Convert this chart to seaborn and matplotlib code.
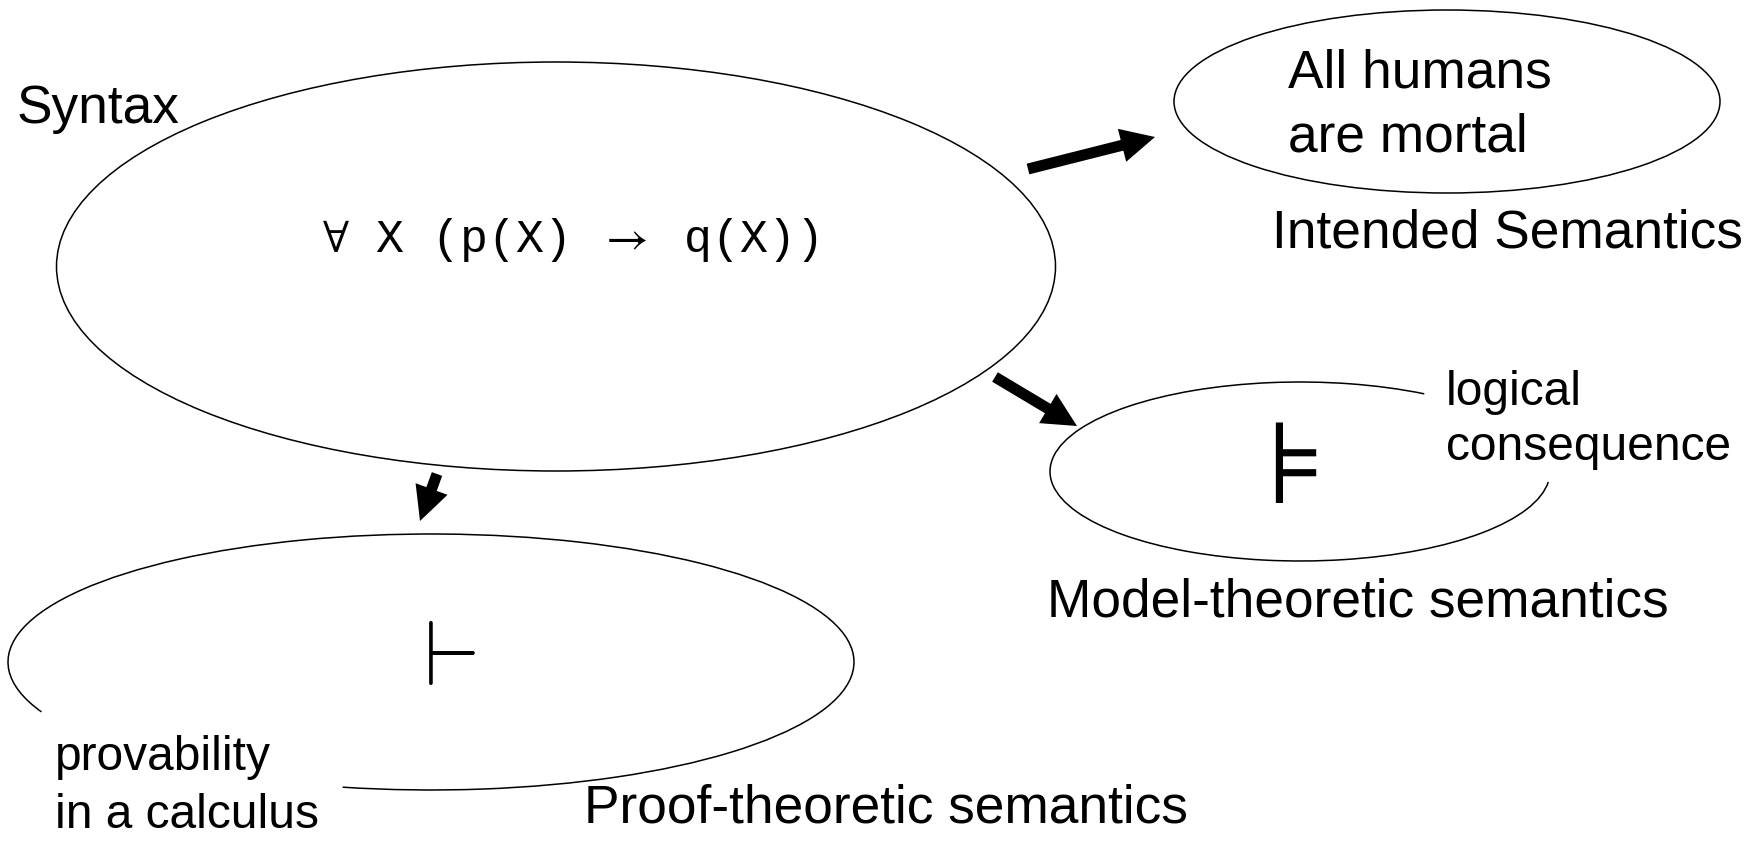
import matplotlib
matplotlib.use("Agg")
import matplotlib.pyplot as plt
from matplotlib.patches import Ellipse, Arc
import seaborn as sns

# Labels of the diagram

syntax_label = "Syntax"
formula = r"$\forall$ X (p(X) $\rightarrow$ q(X))"
intended_lines = ["All humans", "are mortal"]
intended_label = "Intended Semantics"
model_symbol = r"$\models$"
model_note = ["logical", "consequence"]
model_label = "Model-theoretic semantics"
proof_symbol = r"$\vdash$"
proof_note = ["provability", "in a calculus"]
proof_label = "Proof-theoretic semantics"

# Style

sns.set_style("white")
plt.rcParams["font.family"] = ["Liberation Sans", "DejaVu Sans"]
plt.rcParams["text.color"] = "black"

W, H = 1758, 845
big = 38.3
small = 34.5

fig = plt.figure(figsize=(W / 100, H / 100), dpi=100)
ax = fig.add_axes([0, 0, 1, 1])
ax.set_xlim(0, W)
ax.set_ylim(H, 0)
ax.axis("off")

line = dict(fill=False, ec="black", lw=1.1)

# Ellipses (pixel layout)

ax.add_patch(Ellipse((556, 267.5), 999, 409, **line))
ax.add_patch(Ellipse((1447, 102.5), 546, 183, **line))
ax.add_patch(Arc((1300, 472.5), 500, 179, theta1=2.4, theta2=328, **line))
ax.add_patch(Arc((431, 663), 846, 256, theta1=172.7, theta2=125.2, **line))

# Block arrows

arrows = [
    ((1028, 170), (1155, 138)),
    ((995, 378), (1077, 427)),
    ((437, 475), (420, 522)),
]
for (x0, y0), (x1, y1) in arrows:
    ax.arrow(
        x0, y0, x1 - x0, y1 - y0,
        width=11, head_width=34, head_length=34,
        length_includes_head=True, fc="black", ec="black", lw=0
    )

# Texts

ax.text(17, 123, syntax_label, fontsize=big, va="baseline")
ax.text(322, 252, formula, fontsize=33.5, va="baseline",
        family=["Liberation Mono", "DejaVu Sans Mono"],
        math_fontfamily="stix")

for txt, y in zip(intended_lines, [87, 152]):
    ax.text(1288, y, txt, fontsize=big, va="baseline")
ax.text(1272, 248, intended_label, fontsize=big, va="baseline")

ax.text(1280, 473.5, model_symbol, fontsize=83, ha="center", va="center",
        math_fontfamily="dejavusans")
for txt, y in zip(model_note, [405, 460]):
    ax.text(1446, y, txt, fontsize=small, va="baseline")
ax.text(1047, 617, model_label, fontsize=big, va="baseline")

ax.text(441.6, 661, proof_symbol, fontsize=66, ha="center", va="center",
        math_fontfamily="cm")
for txt, y in zip(proof_note, [770, 828]):
    ax.text(55, y, txt, fontsize=small, va="baseline")
ax.text(584, 823, proof_label, fontsize=big, va="baseline")

fig.savefig("out.png", dpi=100, facecolor="white")
